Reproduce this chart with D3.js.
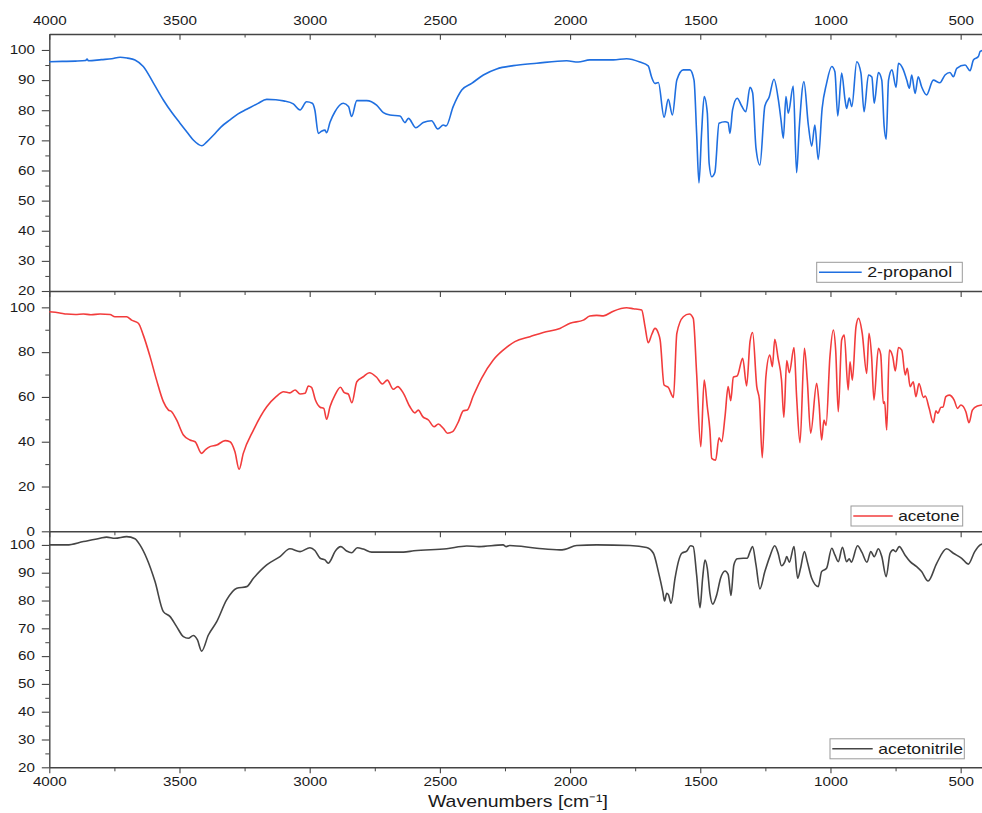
<!DOCTYPE html>
<html>
<head>
<meta charset="utf-8">
<script src="https://cdn.jsdelivr.net/npm/d3@7"></script>
<style>
  html, body { margin: 0; padding: 0; background: #fff; }
  svg { display: block; font-family: "Liberation Sans", Arial, sans-serif; }
</style>
</head>
<body>
<svg id="chart" width="982" height="813"></svg>
<script>
// IR spectra, transmittance (%) vs wavenumber (cm-1)
const propanol = [
  [4000,96.1],[3950,96.2],[3900,96.3],[3860,96.5],[3855,97.0],[3850,96.4],[3800,96.8],[3760,97.1],
  [3728,97.6],[3700,97.3],[3671,96.7],[3639,94.5],[3600,89],[3562,83.4],[3530,79.3],[3498,75.7],
  [3470,72.6],[3447,70.1],[3414,68.2],[3395,69.5],[3369,71.8],[3340,74.5],[3306,76.8],[3275,78.8],
  [3242,80.3],[3200,82.2],[3165,83.6],[3130,83.5],[3100,83.1],[3063,82.1],[3037,80.1],[3012,82.8],
  [2990,82.3],[2980,80],[2967,72.3],[2955,73],[2941,73.4],[2935,72.5],[2922,76],[2903,79.5],
  [2871,82.3],[2851,81.2],[2839,77.9],[2819,83.2],[2781,83.2],[2743,81.7],[2717,79.2],[2692,78.4],
  [2653,78.1],[2634,75.9],[2621,77.3],[2592,74.2],[2564,75.9],[2532,76.5],[2508,73.8],[2487,75.1],
  [2476,74.8],[2449,81.2],[2416,86.7],[2378,88.9],[2333,91.7],[2282,93.7],[2218,94.8],[2128,95.6],
  [2013,96.4],[1969,96.0],[1924,96.7],[1834,96.7],[1783,97.1],[1732,96.0],[1700,94.7],[1687,91.0],
  [1674,88.9],[1661,89.2],[1639,77.7],[1623,83.6],[1607,78.4],[1590,90.0],[1565,93.4],[1540,93.4],
  [1524,90.0],[1514,72.4],[1505,55.9],[1495,72.4],[1485,84.5],[1473,79.1],[1466,62.4],[1456,57.9],
  [1444,59.3],[1428,75.7],[1405,76.2],[1393,75.9],[1386,72.3],[1376,80.1],[1358,84.0],[1341,81.4],
  [1325,79.5],[1309,87.6],[1299,85.8],[1286,67.4],[1271,61.8],[1252,81.4],[1235,84.5],[1217,90.3],
  [1200,83.4],[1190,76.8],[1181,70.7],[1171,84.5],[1162,79.0],[1143,88.0],[1130,59.3],[1120,74.0],
  [1102,89.5],[1085,75.1],[1072,68.1],[1060,75.1],[1047,63.7],[1032,80.6],[1015,88.9],[995,94.5],
  [983,92.8],[972,78.1],[957,92.3],[944,83.4],[938,80.6],[928,84.0],[918,81.2],[899,96.1],
  [883,92.3],[871,79.5],[854,91.7],[841,91.0],[832,82.3],[816,92.5],[803,90.0],[794,74.8],
  [786,70.4],[777,90.0],[764,93.4],[748,87.6],[739,95.6],[720,93.4],[707,90.0],[697,87.3],
  [688,91.7],[675,85.6],[663,91.1],[650,87.8],[631,85.1],[605,90.0],[580,89.1],[560,91.7],
  [541,92.5],[528,91.1],[515,93.9],[483,95.0],[464,93.1],[451,96.7],[432,97.8],[425,99.5],[410,100]
]

const acetone = [
  [4000,98.0],[3960,97.5],[3933,97.0],[3900,96.8],[3869,97.0],[3840,96.7],[3805,97.0],[3767,96.8],
  [3748,95.8],[3703,95.8],[3684,94.3],[3658,92.9],[3639,87.6],[3613,78.0],[3588,67.5],[3562,57.9],
  [3543,54.2],[3530,53.4],[3511,49.7],[3485,43.0],[3460,40.8],[3440,40.0],[3415,34.8],[3400,36.5],
  [3383,37.8],[3357,38.5],[3325,40.5],[3306,40.0],[3287,35.5],[3271,27.7],[3255,34.8],[3216,45.2],
  [3165,55.6],[3130,60],[3100,62.3],[3076,61.8],[3056,63.1],[3037,61.3],[3018,61.6],[3005,64.9],
  [2993,64.3],[2978,58.6],[2960,55.4],[2946,54.9],[2935,50.0],[2922,55.6],[2903,60.8],[2882,64.3],
  [2867,61.9],[2852,61.3],[2838,57.4],[2819,66.8],[2794,69.0],[2771,70.8],[2743,68.8],[2721,65.8],
  [2702,67.5],[2679,63.4],[2662,64.6],[2640,61.6],[2615,55.6],[2596,52.9],[2583,54.1],[2566,51.2],
  [2544,49.7],[2522,46.7],[2506,47.9],[2487,46.0],[2471,43.8],[2451,44.5],[2429,48.9],[2410,53.8],
  [2395,54.2],[2372,60.4],[2340,68.3],[2295,76.5],[2257,80.9],[2212,84.7],[2154,86.9],[2103,88.8],
  [2039,90.6],[2000,92.9],[1949,94.3],[1924,96.1],[1898,96.4],[1872,96.2],[1834,98.3],[1783,99.8],
  [1757,99.4],[1725,98.8],[1712,91.3],[1700,84.2],[1686,88],[1674,90.6],[1661,88.4],[1654,85.4],
  [1639,65.3],[1623,64.3],[1603,59.8],[1590,88.4],[1565,95.8],[1542,97.0],[1527,95.1],[1514,70.5],
  [1498,37.8],[1485,67.5],[1473,55.6],[1463,45.2],[1456,32.6],[1441,31.8],[1428,41.8],[1418,40.0],
  [1405,51.2],[1393,64.6],[1383,58.3],[1373,68.8],[1358,69.4],[1337,77.2],[1322,64.9],[1309,84.7],
  [1299,88.8],[1283,64.6],[1273,58.9],[1262,32.9],[1248,69.0],[1233,78.7],[1223,73.5],[1214,85.7],
  [1201,77.2],[1188,67.5],[1179,50.9],[1168,76.2],[1158,70.8],[1140,82.0],[1130,60.1],[1117,39.6],
  [1100,81.7],[1089,67.5],[1076,43.8],[1053,66.1],[1044,57.1],[1034,40.8],[1025,49.7],[1017,47.3],
  [1002,78.0],[989,89.9],[980,80.9],[970,53.4],[957,85.4],[947,87.6],[932,63.1],[925,75.7],
  [916,67.5],[902,91.3],[892,95.1],[878,88.4],[861,70.5],[852,88.4],[842,78.0],[833,58.6],
  [816,81.7],[807,79.0],[797,57.1],[792,57.8],[784,45.2],[774,80.9],[761,78.0],[751,71.6],
  [739,82.1],[726,80.9],[713,69.8],[705,72.8],[694,64.6],[682,66.8],[672,60.1],[660,66.0],
  [643,59.8],[636,60.4],[621,54.9],[605,48.5],[595,53.8],[587,52.7],[576,55.4],[568,55.4],
  [557,60.1],[544,60.8],[525,58.6],[512,54.9],[499,56.4],[480,53.4],[468,48.5],[455,54.1],
  [436,55.9],[410,56.5]
]

const acetonitrile = [
  [4000,100.0],[3933,100.0],[3869,101.2],[3805,102.4],[3780,102.8],[3748,102.4],[3703,103.0],[3671,102.2],
  [3652,100.0],[3626,95.2],[3594,86.8],[3562,76.0],[3536,74.2],[3511,70.6],[3485,67.0],[3466,66.4],
  [3447,67.4],[3431,65.8],[3415,61.8],[3389,67.6],[3357,72.4],[3319,80.2],[3280,84.4],[3242,85.0],
  [3216,88.0],[3165,92.8],[3114,95.8],[3076,98.6],[3037,97.6],[2999,99.0],[2980,98.0],[2960,95.2],
  [2941,94.6],[2929,93.4],[2922,94.0],[2903,97.6],[2880,99.4],[2858,97.8],[2839,97.2],[2817,99.0],
  [2794,98.5],[2762,97.4],[2640,97.4],[2600,97.9],[2474,98.6],[2397,99.6],[2350,99.4],[2257,100.0],
  [2245,99.4],[2232,99.8],[2128,98.8],[2039,98.2],[2020,98.4],[1975,99.8],[1898,100.0],[1770,99.8],
  [1706,99.1],[1680,97.0],[1661,90.4],[1644,83.2],[1637,79.8],[1629,82.6],[1622,82.0],[1612,79.0],
  [1597,88.0],[1584,94.0],[1571,97.0],[1552,97.8],[1537,99.7],[1527,99.4],[1514,89.2],[1501,77.4],
  [1491,88.0],[1482,94.6],[1473,91.6],[1463,82.6],[1452,78.7],[1437,82.0],[1422,88.0],[1405,90.6],
  [1393,89.4],[1382,81.8],[1371,92.8],[1358,95.0],[1335,95.2],[1320,95.2],[1309,97.6],[1299,99.4],
  [1286,92.8],[1271,84.2],[1252,90.4],[1233,95.8],[1214,99.7],[1201,97.0],[1188,92.5],[1175,94.0],
  [1168,95.8],[1158,93.8],[1140,99.4],[1126,88.0],[1115,91.6],[1100,97.6],[1089,94.0],[1072,88.0],
  [1047,85.0],[1034,90.4],[1015,91.6],[995,98.8],[983,96.4],[970,94.0],[954,99.1],[938,94.0],
  [928,95.0],[920,93.8],[896,99.7],[879,97.3],[860,93.8],[845,97.6],[832,95.8],[816,98.6],
  [803,95.8],[786,88.6],[771,97.0],[759,98.2],[750,97.6],[736,99.4],[714,96.4],[694,94.0],
  [669,92.2],[650,90.4],[625,87.0],[592,93.4],[554,98.6],[528,97.0],[496,95.2],[471,93.1],
  [446,97.6],[425,100.0],[410,100.5]
]

const xTicks = [4000, 3500, 3000, 2500, 2000, 1500, 1000, 500]
const xMinor = [3750, 3250, 2750, 2250, 1750, 1250, 750]
const yTicks1 = [20, 30, 40, 50, 60, 70, 80, 90, 100]
const yTicks2 = [0, 20, 40, 60, 80, 100]
const yTicks3 = [20, 30, 40, 50, 60, 70, 80, 90, 100]
const seriesNames = ["2-propanol", "acetone", "acetonitrile"]
const xTitle = "Wavenumbers [cm\u207B\u00B9]"

const AXIS_COLOR = "#444"
const X_LEFT = 49.3
const X_RIGHT = 986.7
const DIGIT_W = 8.45   // tick labels are drawn wide in the original

var svg = d3.select("#chart")

var x = d3.scaleLinear().domain([4000, 400]).range([X_LEFT, X_RIGHT])

// one entry per stacked panel
var panels = [
  { data: propanol, name: seriesNames[0], color: "#1f6fe0", top: 34, bottom: 291, domain: [20, 105.3],
    ticks: yTicks1, minorStep: 5, legend: { x0: 816.7, x1: 962.3, y: 272.3, lineEnd: 861.7, textW: 85 } },
  { data: acetone, name: seriesNames[1], color: "#f23c3c", top: 291, bottom: 531.3, domain: [0, 107.3],
    ticks: yTicks2, minorStep: 10, legend: { x0: 851, x1: 962.7, y: 516, lineEnd: 892.7, textW: 61.3 } },
  { data: acetonitrile, name: seriesNames[2], color: "#454545", top: 531.3, bottom: 767.3, domain: [20, 104.9],
    ticks: yTicks3, minorStep: 5, legend: { x0: 830, x1: 964.3, y: 748.8, lineEnd: 872.7, textW: 84.7 } }
]

function styleLabels(sel) {
  sel.selectAll("text")
    .attr("font-size", 12)
    .attr("font-family", "Liberation Sans, Arial, sans-serif")
    .attr("fill", "#1a1a1a")
    .attr("textLength", d => String(d).length * DIGIT_W)
    .attr("lengthAdjust", "spacingAndGlyphs")
}

panels.forEach(function (p, idx) {
  var y = d3.scaleLinear().domain(p.domain).range([p.bottom, p.top])
  var g = svg.append("g")

  // minor y ticks
  var minor = d3.range(p.ticks[0] + p.minorStep, p.ticks[p.ticks.length - 1], p.minorStep)
    .filter(v => p.ticks.indexOf(v) < 0)
  g.append("g")
    .attr("transform", "translate(" + X_LEFT + ",0)")
    .attr("color", AXIS_COLOR)
    .call(d3.axisLeft(y).tickValues(minor).tickSize(4).tickSizeOuter(0).tickFormat(""))
    .call(a => a.select(".domain").remove())

  // major y ticks + labels
  var yAxis = g.append("g")
    .attr("transform", "translate(" + X_LEFT + ",0)")
    .attr("color", AXIS_COLOR)
    .call(d3.axisLeft(y).tickValues(p.ticks).tickSize(7.5).tickSizeOuter(0).tickPadding(6.8))
  yAxis.select(".domain").attr("stroke-width", 1.4)
  yAxis.selectAll("line").attr("stroke-width", 1.1)
  styleLabels(yAxis)

  // bottom axis of the panel, ticks pointing out
  var isLast = idx === panels.length - 1
  g.append("g")
    .attr("transform", "translate(0," + p.bottom + ")")
    .attr("color", AXIS_COLOR)
    .call(d3.axisBottom(x).tickValues(xMinor).tickSize(4).tickSizeOuter(0).tickFormat(""))
    .call(a => a.select(".domain").remove())
  var xAxis = g.append("g")
    .attr("transform", "translate(0," + p.bottom + ")")
    .attr("color", AXIS_COLOR)
    .call(d3.axisBottom(x).tickValues(xTicks).tickSize(6).tickSizeOuter(0).tickPadding(4.4)
      .tickFormat(isLast ? d3.format("d") : ""))
  xAxis.select(".domain").attr("stroke-width", 1.4)
  xAxis.selectAll("line").attr("stroke-width", 1.1)
  if (isLast) styleLabels(xAxis)

  // top axis with labels on the first panel, ticks pointing in
  if (idx === 0) {
    g.append("g")
      .attr("transform", "translate(0," + p.top + ")")
      .attr("color", AXIS_COLOR)
      .call(d3.axisTop(x).tickValues(xMinor).tickSizeInner(-3.5).tickSizeOuter(0).tickFormat(""))
      .call(a => a.select(".domain").remove())
    var topAxis = g.append("g")
      .attr("transform", "translate(0," + p.top + ")")
      .attr("color", AXIS_COLOR)
      .call(d3.axisTop(x).tickValues(xTicks).tickSizeInner(-5.7).tickSizeOuter(0).tickPadding(9)
        .tickFormat(d3.format("d")))
    topAxis.select(".domain").attr("stroke-width", 1.4)
    topAxis.selectAll("line").attr("stroke-width", 1.1)
    styleLabels(topAxis)
  }

  // spectrum
  var line = d3.line()
    .x(d => x(d[0]))
    .y(d => y(d[1]))
    .curve(d3.curveMonotoneX)
  g.append("path")
    .datum(p.data)
    .attr("fill", "none")
    .attr("stroke", p.color)
    .attr("stroke-width", 1.6)
    .attr("stroke-linejoin", "round")
    .attr("d", line)

  // legend box
  var L = p.legend
  var leg = g.append("g")
  leg.append("rect")
    .attr("x", L.x0)
    .attr("y", L.y - 10)
    .attr("width", L.x1 - L.x0)
    .attr("height", 20)
    .attr("fill", "#fff")
    .attr("stroke", "#9a9a9a")
    .attr("stroke-width", 1)
  leg.append("line")
    .attr("x1", L.x0 + 2.3)
    .attr("x2", L.lineEnd)
    .attr("y1", L.y)
    .attr("y2", L.y)
    .attr("stroke", p.color)
    .attr("stroke-width", 1.5)
  leg.append("text")
    .attr("x", L.lineEnd + 5.5)
    .attr("y", L.y + 4.8)
    .attr("font-size", 15)
    .attr("fill", "#1a1a1a")
    .attr("textLength", L.textW)
    .attr("lengthAdjust", "spacingAndGlyphs")
    .text(p.name)
})

// axis title
svg.append("text")
  .attr("x", 428)
  .attr("y", 807)
  .attr("font-size", 17)
  .attr("fill", "#1a1a1a")
  .attr("textLength", 180)
  .attr("lengthAdjust", "spacingAndGlyphs")
  .text(xTitle)
</script>
</body>
</html>
